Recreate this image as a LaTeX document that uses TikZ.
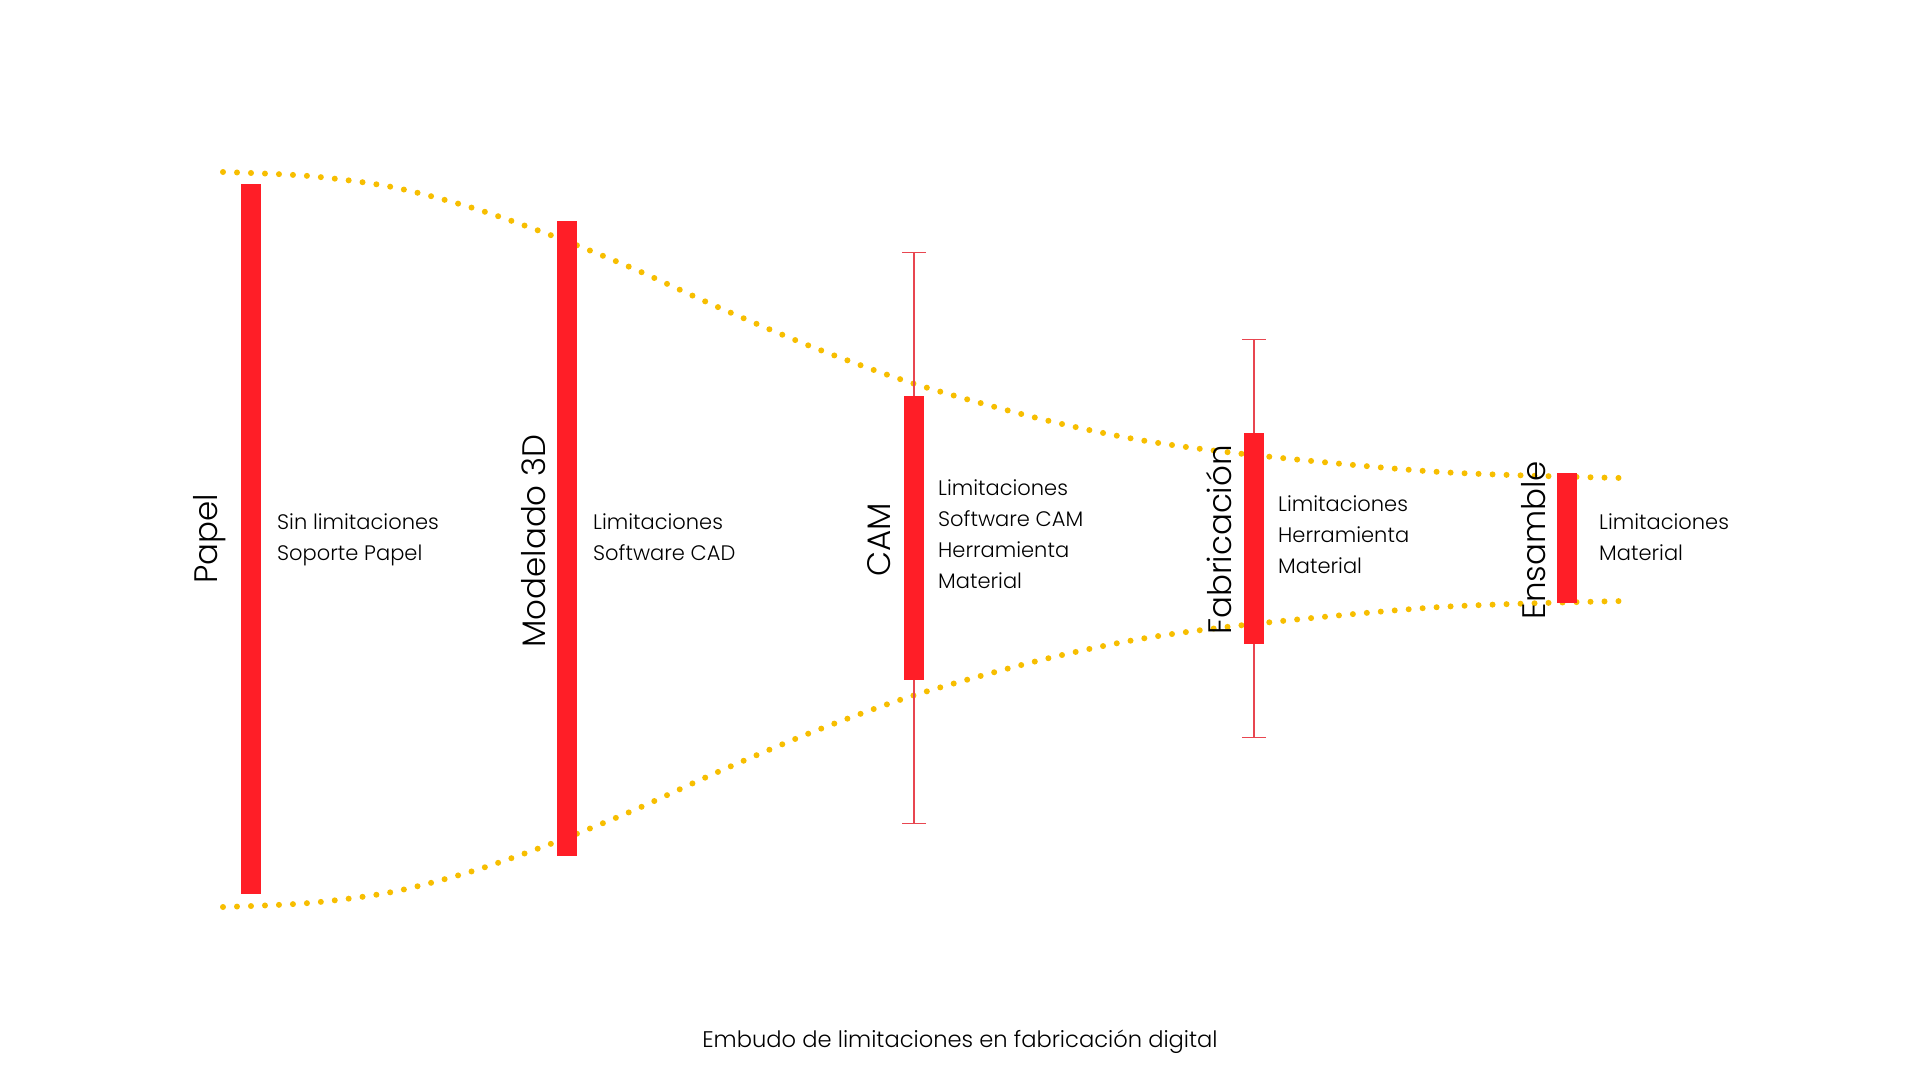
\documentclass[tikz,border=0pt]{standalone}
\usepackage{fontspec}
\setmainfont{Poppins Light}
\usetikzlibrary{arrows.meta}
\definecolor{barred}{RGB}{255,30,39}
\definecolor{funnel}{RGB}{247,190,0}
\definecolor{rangered}{RGB}{232,70,80}

\begin{document}
\begin{tikzpicture}[x=1pt,y=-1pt,
  bar/.style={fill=barred, inner sep=0pt, minimum width=20pt},
  stage/.style={rotate=90, anchor=base, inner sep=0pt, font=\fontsize{32.5}{32.5}\selectfont},
  limits/.style={anchor=base west, align=left, inner sep=0pt, font=\fontsize{21}{31}\selectfont},
  funnelline/.style={funnel, line width=6pt, line cap=round, dash pattern=on 0pt off 14pt},
  rangeline/.style={rangered, line width=1.3pt, {Bar[width=24pt]}-{Bar[width=24pt]}}]
  \useasboundingbox (0,0) rectangle (1920,1080);
  % funnel edges
  \draw[funnelline] plot[smooth] coordinates {(223,172) (309,176) (392,187) (473,208)
    (553,236) (632,268) (720,308) (815,348) (915,384) (1037,418) (1140,440) (1253,455)
    (1440,472) (1622,478)};
  \draw[funnelline] plot[smooth] coordinates {(223,907) (309,903) (392,892) (473,871)
    (553,843) (632,811) (720,771) (815,731) (915,695) (1037,661) (1140,639) (1253,624)
    (1440,607) (1622,601)};
  % ranges
  \coordinate (camhi) at (914,252);
  \coordinate (camlo) at (914,824);
  \coordinate (fabhi) at (1254,339);
  \coordinate (fablo) at (1254,738);
  \draw[rangeline] (camhi) -- (camlo);
  \draw[rangeline] (fabhi) -- (fablo);
  % bars
  \node[bar, minimum height=710pt] (papel) at (251,539) {};
  \node[bar, minimum height=635pt] (modelado) at (567,538.5) {};
  \node[bar, minimum height=284pt] (cam) at (914,538) {};
  \node[bar, minimum height=211pt] (fab) at (1254,538.5) {};
  \node[bar, minimum height=130pt] (ensamble) at (1567,538) {};
  % stage names
  \node[stage] (papellbl) at (217,539) {Papel};
  \node[stage] (modeladolbl) at (545,541) {Modelado 3D};
  \node[stage] (camlbl) at (890,540) {CAM};
  \node[stage] (fablbl) at (1231,540) {Fabricación};
  \node[stage] (ensamblelbl) at (1545,540) {Ensamble};
  % limitations (anchored on the last line)
  \node[limits] (papeltxt) at (277,560) {Sin limitaciones\\Soporte Papel};
  \node[limits] (modeladotxt) at (593,560) {Limitaciones\\Software CAD};
  \node[limits] (camtxt) at (938,588) {Limitaciones\\Software CAM\\Herramienta\\Material};
  \node[limits] (fabtxt) at (1278,573) {Limitaciones\\Herramienta\\Material};
  \node[limits] (ensambletxt) at (1599,560) {Limitaciones\\Material};
  % caption
  \node[anchor=base, inner sep=0pt, font=\fontsize{22.6}{22.6}\selectfont] (caption) at (960,1047)
    {Embudo de limitaciones en fabricación digital};
\end{tikzpicture}
\end{document}
